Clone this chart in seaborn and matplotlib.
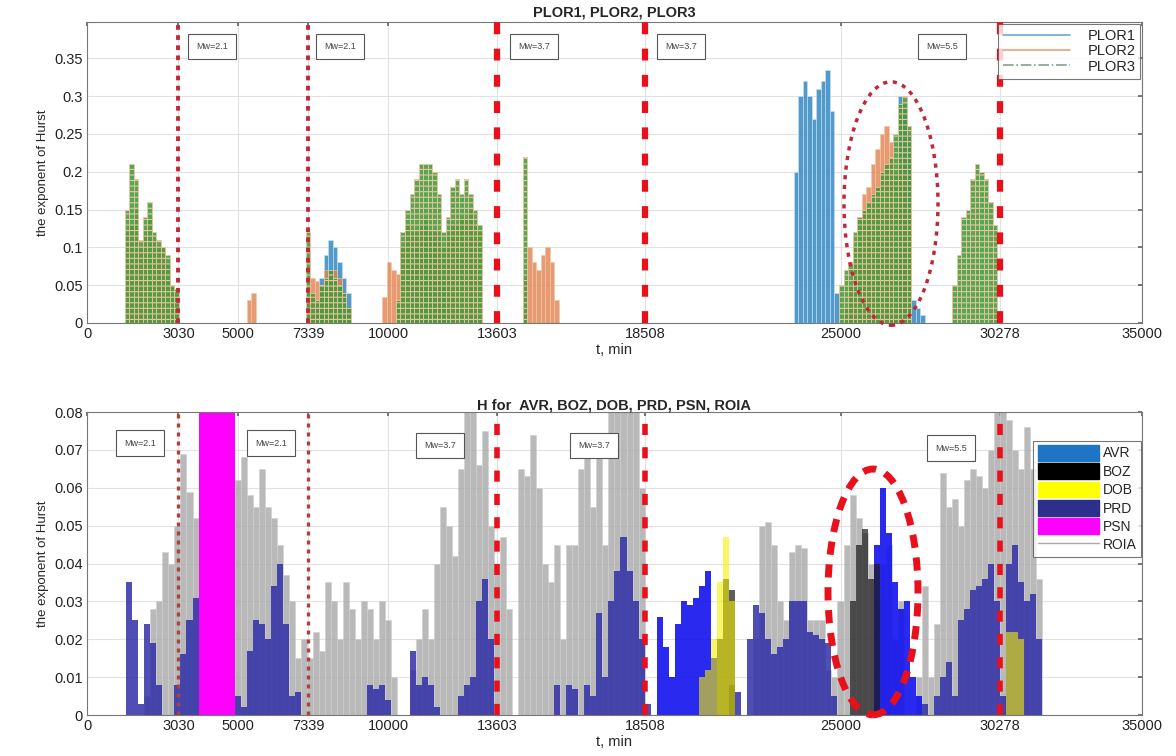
import numpy as np
import matplotlib
matplotlib.use("Agg")
import matplotlib.pyplot as plt
import seaborn as sns
from matplotlib.patches import Ellipse, Patch
from matplotlib.lines import Line2D
from matplotlib.ticker import FormatStrFormatter

# earthquake times (min) and magnitudes
quake_t = [3030, 7339, 13603, 18508, 30278]
quake_mw = [2.1, 2.1, 3.7, 3.7, 5.5]
xticks = [0, 3030, 5000, 7339, 10000, 13603, 18508, 25000, 30278, 35000]

# ---- top panel: Hurst exponent, 150 min bins (segment start = first bin centre)
step_top = 150
plor1_start = [7325, 10775, 23525, 26975]
plor1_vals = [
    [0, 0, 0.02, 0.06, 0.09, 0.11, 0.10, 0.08, 0.06, 0.04],
    [0.08, 0.10, 0.11, 0.13, 0.12, 0.11, 0.08, 0.05],
    [0.20, 0.30, 0.32, 0.30, 0.27, 0.31, 0.32, 0.335, 0.28, 0.04],
    [0.30, 0.29, 0.25, 0.03, 0.02, 0.01],
]
plor2_start = [1325, 5375, 7325, 9875, 14525, 25025]
plor2_vals = [
    [0.12, 0.13, 0.15, 0.10, 0.12, 0.14, 0.11, 0.10, 0.10, 0.08, 0.05, 0.04],
    [0.03, 0.04],
    [0.05, 0.06, 0.055, 0.05, 0.07, 0.06, 0.07, 0.06, 0.04, 0.02],
    [0.035, 0.08, 0.07, 0.065, 0.10, 0.13, 0.12, 0.12, 0.13, 0.14, 0.12,
     0.12, 0.12, 0.10, 0.12, 0.13, 0.13, 0.14, 0.14, 0.15, 0.13, 0.12],
    [0.06, 0.10, 0.08, 0.07, 0.09, 0.10, 0.08, 0.03],
    [0, 0.02, 0.05, 0.10, 0.14, 0.17, 0.18, 0.21, 0.23, 0.25, 0.26, 0.24,
     0.20, 0.22, 0.20, 0.15],
]
plor3_start = [1325, 7325, 9875, 14525, 25025, 28775]
plor3_vals = [
    [0.15, 0.21, 0.19, 0.11, 0.14, 0.16, 0.12, 0.11, 0.10, 0.09, 0.05, 0.045],
    [0.12, 0.04, 0.03, 0.05, 0.06, 0.07, 0.06, 0.05, 0.04, 0.02],
    [0, 0, 0, 0.03, 0.12, 0.15, 0.17, 0.19, 0.21, 0.21, 0.21, 0.20, 0.17,
     0.12, 0.14, 0.18, 0.19, 0.17, 0.19, 0.17, 0.15, 0.13],
    [0.22],
    [0.05, 0.07, 0.08, 0.12, 0.14, 0.15, 0.16, 0.17, 0.18, 0.20, 0.21, 0.22,
     0.25, 0.29, 0.30, 0.26],
    [0.05, 0.09, 0.14, 0.15, 0.19, 0.21, 0.20, 0.19, 0.16, 0.13],
]

# ---- bottom panel: 200 min bins starting at 1400 min (bin centres)
step_low = 200
low_start = 1400
roia = [0, 0, 0, 0.005, 0.028, 0.03, 0.043, 0.04, 0.05, 0.069, 0.059, 0.052,
        0, 0, 0, 0, 0, 0,
        0.062, 0.068, 0.058, 0.055, 0.065, 0.055, 0.052, 0.045, 0.037, 0.03,
        0.015, 0.02, 0.015, 0.022, 0.017, 0.035, 0.03, 0.02, 0.035, 0.028, 0.02,
        0.03, 0.028, 0.02, 0.03, 0.025, 0.01, 0, 0, 0.012, 0.02, 0.028, 0.02,
        0.04, 0.055, 0.05, 0.042, 0.065, 0.085, 0.08, 0.066, 0.075, 0.05, 0.04,
        0.047, 0.028, 0, 0.065, 0.063, 0.074, 0.06, 0.04, 0.035, 0.045, 0.02,
        0.045, 0.045,
        0.065, 0.07, 0.055, 0.07, 0.045, 0.085, 0.09, 0.09, 0.085, 0.085, 0.06,
        0, 0, 0, 0, 0, 0, 0, 0, 0, 0, 0, 0, 0, 0, 0, 0, 0, 0,
        0.02, 0.05, 0.051, 0.045, 0.03, 0.025, 0.043, 0.045, 0.044,
        0.025, 0.025, 0.025, 0.012, 0.01, 0.03, 0.045, 0.058, 0.052, 0.048,
        0.04, 0.03, 0.04, 0.045, 0.02, 0.03, 0, 0, 0.01, 0.034,
        0.01, 0.024, 0.064, 0.055, 0.057, 0.05, 0.062, 0.065, 0.063, 0.06,
        0.07, 0.08, 0.085, 0.078, 0.07, 0.065, 0.076, 0.065, 0.036, 0]
prd = [0.035, 0.025, 0.003, 0.024, 0.019, 0.008, 0, 0, 0.008, 0.016, 0.025, 0.031,
       0, 0, 0, 0, 0, 0,
       0.005, 0.002, 0.017, 0.025, 0.024, 0.02, 0.034, 0.04, 0.024, 0.005, 0.006,
       0, 0, 0, 0, 0, 0, 0, 0, 0, 0,
       0, 0.008, 0.007, 0.008, 0.004, 0, 0, 0, 0.017, 0.008, 0.01, 0.008, 0.002,
       0, 0, 0, 0.005, 0.008, 0.01, 0.03, 0.036, 0.02, 0, 0, 0, 0, 0, 0, 0, 0,
       0, 0, 0.008, 0, 0.008, 0.007,
       0, 0.008, 0.005, 0.027, 0.01, 0.03, 0.038, 0.047, 0.038, 0.03, 0.02, 0.003,
       0, 0, 0, 0, 0, 0, 0, 0, 0, 0, 0, 0, 0, 0.008, 0.006, 0, 0.02, 0.029,
       0.027, 0.02, 0.016, 0.018, 0.02, 0.03, 0.03, 0.03,
       0.022, 0.021, 0.02, 0.019, 0.005, 0, 0, 0, 0, 0, 0, 0, 0, 0, 0,
       0, 0, 0, 0, 0.003, 0, 0.005, 0.01, 0.014, 0.005, 0.025, 0.028, 0.033,
       0.034, 0.036, 0.04, 0.03, 0.005, 0.04, 0.045, 0.035, 0.03, 0.032, 0.02, 0]
avr_start = [19000, 26200]
avr_vals = [[0.026, 0.018, 0.01, 0.024, 0.03, 0.029, 0.031, 0.034, 0.038, 0.015],
            [0.045, 0.06, 0.048, 0.035, 0.028, 0.03, 0.01, 0.005]]
boz_start = [20600, 25400]
boz_vals = [[0, 0, 0.02, 0.036, 0.033],
            [0.03, 0.045, 0.049, 0.036, 0.04]]
dob_start = [20400, 30600]
dob_vals = [[0.01, 0.012, 0.02, 0.035, 0.047, 0.03],
            [0.022, 0.022, 0.02]]
psn_start = [3800]
psn_vals = [[0.09, 0.09, 0.09, 0.09, 0.09, 0.09]]


def flatten(starts, vals, step):
    t, h = [], []
    for s, v in zip(starts, vals):
        t += [s + i * step for i in range(len(v))]
        h += list(v)
    return np.array(t, float), np.array(h, float)


def bars(ax, starts, vals, step, brange, **kw):
    t, h = flatten(starts, vals, step)
    sns.histplot(x=t, weights=h, binwidth=step, binrange=brange, ax=ax, **kw)


sns.set_theme(style="whitegrid")
plt.rcParams["font.family"] = ["Liberation Sans", "DejaVu Sans"]
plt.rcParams["hatch.linewidth"] = 0.8

fig = plt.figure(figsize=(11.76, 7.56), dpi=100)
ax1 = fig.add_axes([0.074, 0.5728, 0.897, 0.398])
ax2 = fig.add_axes([0.074, 0.0542, 0.897, 0.4008])

# ---------------- top panel
top_range = (50, 34850)
bars(ax1, plor1_start, plor1_vals, step_top, top_range, color="#3f8fc4", alpha=0.9,
     edgecolor="#cfe3f0", linewidth=0.4)
bars(ax1, plor2_start, plor2_vals, step_top, top_range, color="#e0824f", alpha=0.8,
     edgecolor="#f3c7a8", linewidth=0.4)
bars(ax1, plor3_start, plor3_vals, step_top, top_range, color="#3d9c3a", alpha=0.88,
     edgecolor="#eec3a0", linewidth=0.6, hatch="---")

ax1.set_ylim(0, 0.398)
ax1.set_yticks(np.arange(0, 0.36, 0.05))
ax1.set_title("PLOR1, PLOR2, PLOR3", fontsize=10.5, fontweight="bold", pad=4)

for i, t in enumerate(quake_t):
    if i < 2:
        ax1.axvline(t, color="#c0283a", lw=2.8, ls=(0, (1.2, 1.4)), zorder=5)
    else:
        ax1.axvline(t, color="#e8101a", lw=4.5, ls=(0, (1.9, 2.3)), zorder=5)

top_box_x = [4148, 8395, 14831, 19709, 28369]
for x, m in zip(top_box_x, quake_mw):
    ax1.text(x, 0.366, f"Mw={m}", fontsize=6.5, color="#444", ha="center", va="center",
             zorder=6, bbox=dict(boxstyle="square,pad=0.9", fc="white", ec="#555", lw=0.8))

ax1.add_patch(Ellipse((26675, 0.158), 3119, 0.322, fill=False, ec="#c0283a", lw=2.5,
                      ls=(0, (1.2, 1.6)), zorder=6, clip_on=False))

top_handles = [Line2D([], [], color="#6fa8d0", lw=1.2),
               Line2D([], [], color="#e8a27a", lw=1.2),
               Line2D([], [], color="#8aa080", lw=1.2, ls="-.")]
leg1 = ax1.legend(top_handles, ["PLOR1", "PLOR2", "PLOR3"], loc="upper right",
                  fontsize=10.5, frameon=True, fancybox=False, borderaxespad=0.1,
                  handlelength=4.6, labelspacing=0.1, borderpad=0.35, handletextpad=1.2)
leg1.get_frame().set_edgecolor("#555")
leg1.get_frame().set_linewidth(0.8)
leg1.set_zorder(10)

# ---------------- bottom panel
low_range = (1300, 33300)
bars(ax2, [low_start], [roia], step_low, low_range, color="#a8a8a8", alpha=0.8,
     edgecolor="#cfcfcf", linewidth=0.4)
bars(ax2, [low_start], [prd], step_low, low_range, color="#2f2fa8", alpha=0.85,
     linewidth=0)
bars(ax2, avr_start, avr_vals, step_low, low_range, color="#1212ee", alpha=0.9,
     linewidth=0)
bars(ax2, boz_start, boz_vals, step_low, low_range, color="#1a1a1a", alpha=0.7,
     linewidth=0)
bars(ax2, dob_start, dob_vals, step_low, low_range, color="#f5f000", alpha=0.6,
     linewidth=0)
bars(ax2, psn_start, psn_vals, step_low, low_range, color="#ff00ff", alpha=1.0,
     linewidth=0)

ax2.set_ylim(0, 0.08)
ax2.set_yticks(np.arange(0, 0.0801, 0.01))
ax2.set_title("H for  AVR, BOZ, DOB, PRD, PSN, ROIA", fontsize=10.5, fontweight="bold", pad=2)

for i, t in enumerate(quake_t):
    if i < 2:
        ax2.axvline(t, color="#a8443c", lw=2.4, ls=(0, (1.2, 1.5)), zorder=5)
    else:
        ax2.axvline(t, color="#e8101a", lw=4.0, ls=(0, (2.0, 2.2)), zorder=5)

low_box_x = [1758, 6105, 11713, 16822, 28668]
low_box_y = [0.0718, 0.0718, 0.0712, 0.0712, 0.0705]
for x, y, m in zip(low_box_x, low_box_y, quake_mw):
    ax2.text(x, y, f"Mw={m}", fontsize=6.5, color="#444", ha="center", va="center",
             zorder=6, bbox=dict(boxstyle="square,pad=0.9", fc="white", ec="#555", lw=0.8))

ax2.add_patch(Ellipse((26078, 0.0325), 2986, 0.0649, fill=False, ec="#e8101a", lw=5,
                      ls=(0, (1.9, 1.4)), zorder=6, clip_on=False))

low_handles = [Patch(fc="#1f74c4", ec="#1f74c4"), Patch(fc="#000000", ec="#000000"),
               Patch(fc="#ffff00", ec="#ffff00"), Patch(fc="#2e2e8c", ec="#2e2e8c"),
               Patch(fc="#ff00ff", ec="#ff00ff"), Line2D([], [], color="#aaaaaa", lw=1)]
leg2 = ax2.legend(low_handles, ["AVR", "BOZ", "DOB", "PRD", "PSN", "ROIA"],
                  loc="upper right", bbox_to_anchor=(0.999, 0.905), fontsize=10,
                  frameon=True, fancybox=False, borderaxespad=0.0, handlelength=4.4,
                  handleheight=1.35, labelspacing=0.2, borderpad=0.3, handletextpad=0.3)
leg2.get_frame().set_edgecolor("#555")
leg2.get_frame().set_linewidth(0.8)
leg2.set_zorder(10)

for ax in (ax1, ax2):
    ax.set_xlim(0, 35000)
    ax.set_xticks(xticks)
    ax.set_xticklabels([str(v) for v in xticks])
    ax.yaxis.set_major_formatter(FormatStrFormatter("%g"))
    ax.tick_params(direction="in", length=3, top=True, right=True, labelsize=10.5,
                   color="#666", labelcolor="#222", pad=3)
    ax.grid(True, color="#e2e2e2", lw=0.8)
    ax.set_axisbelow(True)
    for sp in ax.spines.values():
        sp.set_color("#777")
        sp.set_linewidth(0.8)
    ax.set_xlabel("t, min", fontsize=10.5, labelpad=1)
    ax.set_ylabel("the exponent of Hurst", fontsize=9.5, labelpad=4)

fig.savefig("out.png", dpi=100)
